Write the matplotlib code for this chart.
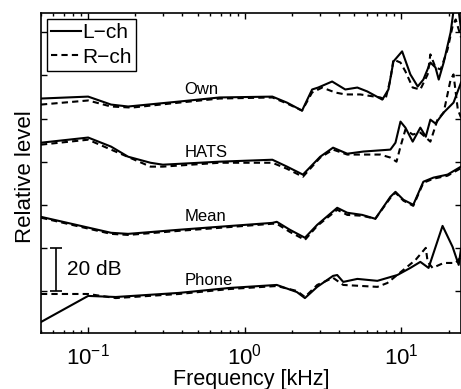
import numpy as np
import matplotlib
matplotlib.use("Agg")
import matplotlib.pyplot as plt

plt.rcParams['font.family'] = ['Liberation Sans', 'DejaVu Sans']

# frequencies in kHz, levels in dB (curves offset for display)
own_f_L = [0.05, 0.1, 0.14, 0.18, 0.38, 0.69, 1.5, 1.86, 2.32, 2.69, 2.94, 3.61, 4.38, 5.23, 6.05,
           7.55, 8.26, 8.89, 10.1, 11.4, 12.7, 13.8, 15.3, 16.5, 17.3, 18.6, 20.6, 21.5, 23.2, 24]
own_L = [-30.7, -29.8, -33.5, -34.4, -32.1, -30.2, -29.8, -32.6, -36.3, -26.5, -25.6, -22.8, -26.5, -25.6, -27.4,
         -31.2, -26.5, -13.5, -8.8, -19.5, -25.1, -21.9, -14.0, -16.3, -21.9, -14.0, 0.0, 10.0, 10.0, 1.4]
own_f_R = [0.05, 0.1, 0.14, 0.19, 0.38, 0.69, 1.5, 1.86, 2.32, 2.69, 3.12, 3.78, 4.38, 5.46, 7.33,
           7.9, 8.5, 8.89, 9.86, 10.6, 11.8, 13.2, 14.7, 15.3, 16.5, 17.8, 19.7, 21.2, 22.2, 24]
own_R = [-33.5, -31.6, -34.4, -34.9, -32.6, -30.7, -30.2, -33.0, -36.3, -27.9, -25.6, -27.9, -28.8, -28.8, -30.2,
         -31.2, -21.9, -12.6, -14.0, -18.1, -25.6, -26.5, -19.5, -10.2, -16.3, -17.2, -7.9, 2.8, 6.0, -2.3]

hats_f_L = [0.05, 0.1, 0.14, 0.18, 0.25, 0.30, 0.69, 1.5, 1.86, 2.35, 3.03, 3.66, 4.51, 5.71, 8.5,
            9.16, 9.86, 10.6, 11.8, 13.2, 14.3, 15.3, 16.5, 18.6, 21.5, 24]
hats_L = [-51.2, -48.8, -53.0, -57.7, -60.5, -61.4, -60.0, -59.1, -62.3, -66.0, -57.7, -53.5, -56.3, -55.3, -54.4,
          -51.2, -41.4, -44.2, -50.7, -44.2, -48.4, -40.5, -42.3, -37.2, -32.6, -23.3]
hats_f_R = [0.05, 0.1, 0.14, 0.25, 0.30, 0.69, 1.5, 1.86, 2.35, 3.03, 3.66, 4.51, 7.33, 8.5, 9.3,
            9.86, 10.6, 11.8, 13.2, 15.3, 17.0, 18.6, 20.6, 21.5, 22.9, 24]
hats_R = [-52.1, -49.8, -54.4, -62.3, -62.3, -60.5, -60.5, -63.3, -67.0, -58.1, -54.4, -56.7, -56.7, -58.1, -60.0,
          -53.0, -45.1, -47.4, -46.5, -50.7, -40.5, -37.2, -21.9, -19.5, -35.8, -39.5]

mean_f = [0.05, 0.14, 0.18, 0.38, 0.69, 1.5, 1.6, 1.94, 2.42, 2.90, 3.89, 4.51, 5.62, 6.81, 8.5,
          9.16, 10.3, 11.9, 13.8, 16.0, 19.7, 24]
mean_L = [-85.6, -93.0, -93.5, -91.6, -90.2, -88.4, -87.9, -91.6, -95.3, -89.3, -81.4, -83.7, -84.7, -86.5, -76.3,
          -74.0, -77.7, -80.0, -69.3, -67.4, -66.0, -62.3]
mean_R = [-86.0, -93.5, -94.0, -92.1, -90.7, -88.8, -88.8, -92.6, -96.3, -89.8, -82.3, -84.7, -85.1, -86.5, -76.8,
          -74.4, -78.1, -80.5, -69.8, -67.9, -66.5, -63.0]

phone_f_L = [0.05, 0.1, 0.15, 0.38, 0.80, 1.6, 2.15, 2.42, 2.90, 3.66, 3.89, 4.25, 5.23, 7.02, 9.42,
             11.4, 13.2, 14.9, 18.3, 21.2, 23.2, 24]
phone_L = [-134.4, -122.3, -122.8, -120.9, -118.6, -117.2, -120.5, -123.3, -118.1, -113.0, -112.6, -115.8, -114.4,
           -115.3, -112.6, -109.3, -106.5, -109.3, -89.8, -99.5, -107.9, -100.5]
phone_f_R = [0.05, 0.1, 0.15, 0.38, 0.80, 1.6, 2.15, 2.42, 2.90, 3.66, 4.25, 7.02, 8.13, 10.3, 12.3,
             14.3, 14.7, 15.8, 18.6, 22.2, 24]
phone_R = [-121.4, -121.4, -123.3, -121.4, -119.1, -117.7, -120.0, -122.8, -117.2, -113.9, -117.2, -118.1, -116.3,
           -110.2, -105.6, -100.0, -106.5, -109.3, -107.0, -107.0, -104.2]

names = ["Own", "HATS", "Mean", "Phone"]
name_y = [-26.5, -55.8, -85.6, -115.3]
name_f = 0.41

bar_f = 0.0624
bar_lo, bar_hi = -120, -100

fig = plt.figure(figsize=(4.61, 3.89), dpi=100)
ax = fig.add_axes([0.0889, 0.144, 0.9111, 0.8226])

lw = 1.5
dash = (3, 2)
ax.plot(own_f_L, own_L, 'k-', lw=lw, label='L\u2212ch')
ax.plot(own_f_R, own_R, 'k--', lw=lw, dashes=dash, label='R\u2212ch')
ax.plot(hats_f_L, hats_L, 'k-', lw=lw)
ax.plot(hats_f_R, hats_R, 'k--', lw=lw, dashes=dash)
ax.plot(mean_f, mean_L, 'k-', lw=lw)
ax.plot(mean_f, mean_R, 'k--', lw=lw, dashes=dash)
ax.plot(phone_f_L, phone_L, 'k-', lw=lw)
ax.plot(phone_f_R, phone_R, 'k--', lw=lw, dashes=dash)

for n, y in zip(names, name_y):
    ax.text(name_f, y, n, fontsize=12, ha='left', va='center')

# 20 dB scale bar
ax.errorbar([bar_f], [(bar_lo + bar_hi) / 2], yerr=[(bar_hi - bar_lo) / 2], color='k',
            lw=1.2, capsize=4.5, capthick=1.2)
ax.text(0.0733, (bar_lo + bar_hi) / 2, "20 dB", fontsize=15, ha='left', va='center')

ax.set_xscale('log')
ax.set_xlim(0.05, 24)
ax.set_ylim(-139.5, 9.0)
ax.set_yticks(np.arange(-120, 1, 20))
ax.set_yticklabels([])

ax.tick_params(which='both', direction='in', top=True, right=True, width=1.0)
ax.tick_params(which='major', length=4.5, labelsize=16, pad=8)
ax.tick_params(which='minor', length=2.5)
for s in ax.spines.values():
    s.set_linewidth(1.2)

ax.set_xlabel("Frequency [kHz]", fontsize=15.5, labelpad=-1)
ax.set_ylabel("Relative level", fontsize=16)
ax.yaxis.set_label_coords(-0.012, 0.49)

leg = ax.legend(loc='upper left', fontsize=15, frameon=True, fancybox=False, edgecolor='k',
                handlelength=1.4, handletextpad=0.1, borderpad=0.2, labelspacing=0.25,
                borderaxespad=0.3, framealpha=1)
leg.get_frame().set_linewidth(1.0)

fig.savefig("out.png", dpi=100)
